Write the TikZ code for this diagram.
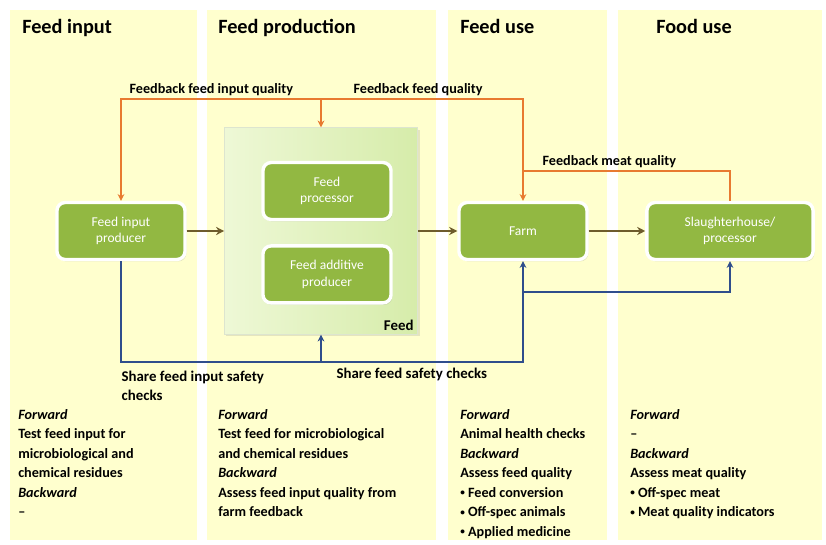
\documentclass[tikz,border=0pt]{standalone}
\usepackage{fontspec}
\setmainfont{Carlito}
\usepackage{xcolor}
\usepackage{tikz}
\usetikzlibrary{arrows.meta, positioning, shadows}
\definecolor{colfill}{RGB}{255,255,206}
\definecolor{actgreen}{RGB}{146,184,66}
\definecolor{feedlight}{RGB}{238,248,214}
\definecolor{feeddark}{RGB}{214,236,170}
\definecolor{flowbrown}{RGB}{110,92,44}
\definecolor{fborange}{RGB}{232,122,48}
\definecolor{shareblue}{RGB}{47,78,140}
\newcommand{\itm}{\raisebox{0.2ex}{\scalebox{0.65}{\textbullet}}}
\tikzset{
  column/.style={fill=colfill, draw=none},
  heading/.style={anchor=north west, inner sep=0pt, font=\fontsize{15}{18}\selectfont\bfseries},
  actor/.style={rectangle, rounded corners=6pt, minimum width=3.33cm, minimum height=1.48cm, text centered, align=center, fill=actgreen, draw=white, line width=2.5pt, text=white, font=\fontsize{10}{12}\selectfont, drop shadow={opacity=0.2, shadow xshift=1pt, shadow yshift=-1.5pt}},
  container/.style={rectangle, minimum width=5.02cm, minimum height=5.38cm, left color=feedlight, right color=feeddark, draw=feeddark!80!black!40, line width=0.4pt, drop shadow={opacity=0.2, shadow xshift=1.5pt, shadow yshift=-1.5pt}},
  label/.style={inner sep=1pt, font=\fontsize{10.5}{12}\selectfont\bfseries},
  notes/.style={anchor=north west, inner sep=0pt, align=left, font=\fontsize{10.5}{14.4}\selectfont\bfseries},
  flow/.style={line width=1.8pt, flowbrown, -{Stealth[length=6pt, width=6pt]}},
  fback/.style={line width=1.3pt, fborange},
  share/.style={line width=1.6pt, shareblue},
  tip/.style={-{Stealth[length=5pt, width=5pt]}}
}

\begin{document}
\begin{tikzpicture}[x=0.026cm, y=-0.026cm]
\useasboundingbox[fill=white] (0,0) rectangle (826,545);
% columns
\fill[column] (10,10) rectangle (197,540);
\fill[column] (207,10) rectangle (436,540);
\fill[column] (448,10) rectangle (607,540);
\fill[column] (618,10) rectangle (822,540);

\node[heading] (h1) at (22,19) {Feed input};
\node[heading] (h2) at (218,19) {Feed production};
\node[heading] (h3) at (460,19) {Feed use};
\node[heading] (h4) at (656,19) {Food use};

% chain
\node[actor] (fip) at (121,231) {Feed input\\producer};
\node[container] (feed) at (321,231) {};
\node[font=\fontsize{11}{12}\selectfont\bfseries, anchor=south east, inner sep=3pt] (feedlbl) at (feed.south east) {Feed};
\node[actor] (proc) at (327,191) {Feed\\processor};
\node[actor, below=0.6cm of proc] (addp) {Feed additive\\producer};
\node[actor] (farm) at (523,231) {Farm};
\node[actor, minimum width=4.32cm] (slaughter) at (730,231) {Slaughterhouse/\\processor};

\draw[flow] (fip) -- (feed);
\draw[flow] (feed) -- (farm);
\draw[flow] (farm) -- (slaughter);

% feedback (orange)
\coordinate (mq) at (523,171);
\coordinate (tq) at (523,99);
\draw[fback, tip] (slaughter.north) |- (mq) -- (farm.north);
\draw[fback, tip] (mq) -- (tq) -| (fip.north);
\draw[fback, tip] (feed.north |- tq) -- (feed.north);
\node[label, anchor=south west] (fbin) at (128,97) {Feedback feed input quality};
\node[label, anchor=south west] (fbfeed) at (352,97) {Feedback feed quality};
\node[label, anchor=south west] (fbmeat) at (541,169) {Feedback meat quality};

% safety checks (blue)
\coordinate (sb) at (523,362);
\coordinate (sm) at (523,292);
\draw[share, tip] (fip.south) |- (sb) -- (farm.south);
\draw[share, tip] (sm) -| (slaughter.south);
\draw[share, tip] (feed.south |- sb) -- (feed.south);
\node[label, anchor=north west, align=left, font=\fontsize{11}{14.4}\selectfont\bfseries] (shin) at (120,369) {Share feed input safety\\checks};
\node[label, anchor=north west, font=\fontsize{11}{14.4}\selectfont\bfseries] (shfeed) at (335,366) {Share feed safety checks};

% notes
\node[notes] (n1) at (18,409) {\textit{Forward}\\Test feed input for\\microbiological and\\chemical residues\\\textit{Backward}\\--};
\node[notes] (n2) at (218,409) {\textit{Forward}\\Test feed for microbiological\\and chemical residues\\\textit{Backward}\\Assess feed input quality from\\farm feedback};
\node[notes] (n3) at (460,409) {\textit{Forward}\\Animal health checks\\\textit{Backward}\\Assess feed quality\\\itm{} Feed conversion\\\itm{} Off-spec animals\\\itm{} Applied medicine};
\node[notes] (n4) at (630,409) {\textit{Forward}\\--\\\textit{Backward}\\Assess meat quality\\\itm{} Off-spec meat\\\itm{} Meat quality indicators};
\end{tikzpicture}
\end{document}
